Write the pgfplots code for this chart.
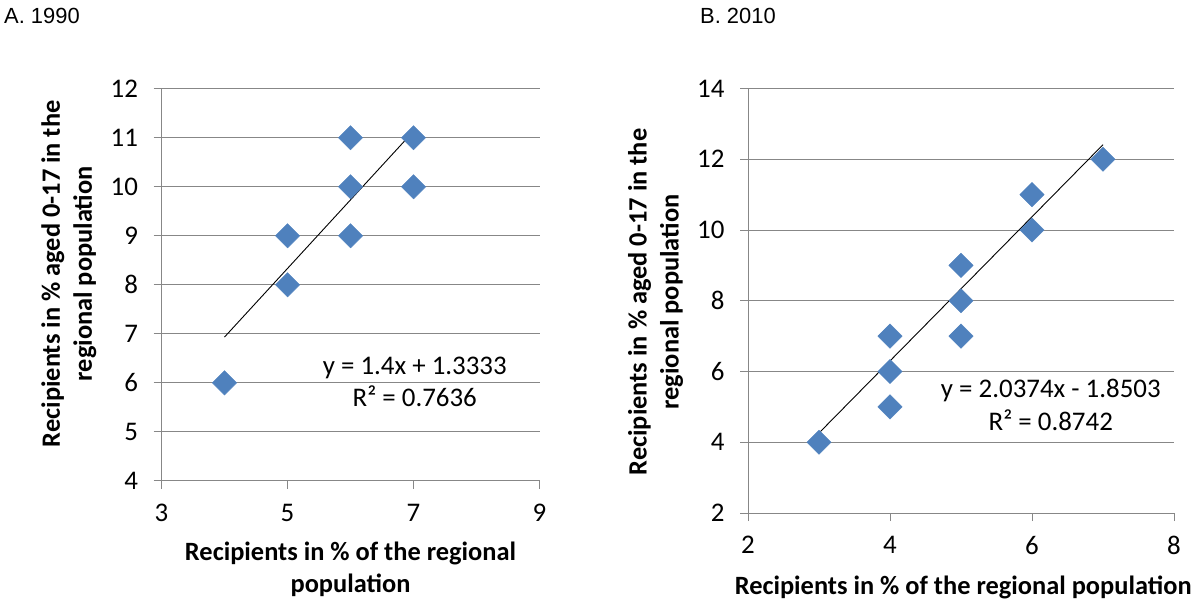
\documentclass[border=0pt]{standalone}
\usepackage{fontspec}
\setmainfont{Carlito}
\newfontfamily\arial{Liberation Sans}
\usepackage{pgfplots}
\pgfplotsset{compat=1.18}

\definecolor{ptblue}{HTML}{4F81BD}
\definecolor{gridgray}{HTML}{878787}

\pgfplotsset{
  panel/.style={
    scale only axis,
    anchor=south west,
    axis x line=bottom,
    axis y line=left,
    axis line style={gridgray,line width=1bp,-},
    ymajorgrids,
    grid style={gridgray,line width=1bp},
    tick style={gridgray,line width=1bp},
    tick align=outside,
    major tick length=8bp,
    /pgf/number format/assume math mode=true,
    ticklabel style={font=\fontsize{27}{32}\selectfont,black},
    yticklabel style={xshift=-12bp},
    xticklabel style={yshift=-12bp},
    label style={font=\fontsize{26.5}{32}\bfseries\selectfont,align=center,black},
    clip=false,
  },
  pts/.style={only marks,mark=square*,mark size=8.6bp,
    mark options={rotate=45,fill=ptblue,draw=ptblue}},
  trend/.style={black,line width=0.9bp,no marks},
}

\begin{document}
\begin{tikzpicture}
\useasboundingbox (0,-600bp) rectangle (1195bp,0);

\node[anchor=west,font=\arial\fontsize{22}{26}\selectfont,inner sep=0pt] at (4bp,-16bp) {A. 1990};
\node[anchor=west,font=\arial\fontsize{22}{26}\selectfont,inner sep=0pt] at (700bp,-16bp) {B. 2010};

% A. 1990
\begin{axis}[panel,
  at={(161.5bp,-480.8bp)}, width=378bp, height=392bp,
  xmin=3, xmax=9, ymin=4, ymax=12,
  xtick={3,5,7,9}, ytick={4,5,...,12},
  xlabel={Recipients in \% of the regional\\population},
  ylabel={Recipients in \% aged 0-17 in the\\regional population},
  xlabel style={at={(axis description cs:0.5,-0.226)},anchor=center},
  ylabel style={at={(axis description cs:-0.245,0.528)},anchor=center},
]
\addplot[pts] coordinates {
  (4,6) (5,8) (5,9) (6,9) (6,10) (6,11) (7,10) (7,11)
};
\addplot[trend] coordinates {(4,6.9333) (7,11.1333)};
\node[align=center,font=\fontsize{27}{33}\selectfont] at (axis cs:7.02,6.02)
  {y = 1.4x + 1.3333\\R² = 0.7636};
\end{axis}

% B. 2010
\begin{axis}[panel,
  at={(748bp,-513bp)}, width=426bp, height=424.5bp,
  xmin=2, xmax=8, ymin=2, ymax=14,
  xtick={2,4,6,8}, ytick={2,4,...,14},
  xlabel={Recipients in \% of the regional population},
  ylabel={Recipients in \% aged 0-17 in the\\regional population},
  xlabel style={at={(axis description cs:0.505,-0.176)},anchor=center},
  ylabel style={at={(axis description cs:-0.217,0.497)},anchor=center},
]
\addplot[pts] coordinates {
  (3,4) (4,5) (4,6) (4,7) (5,7) (5,8) (5,9) (6,10) (6,11) (7,12)
};
\addplot[trend] coordinates {(3,4.2619) (7,12.4115)};
\node[align=center,font=\fontsize{27}{33}\selectfont] at (axis cs:6.265,5.05)
  {y = 2.0374x - 1.8503\\R² = 0.8742};
\end{axis}
\end{tikzpicture}
\end{document}
